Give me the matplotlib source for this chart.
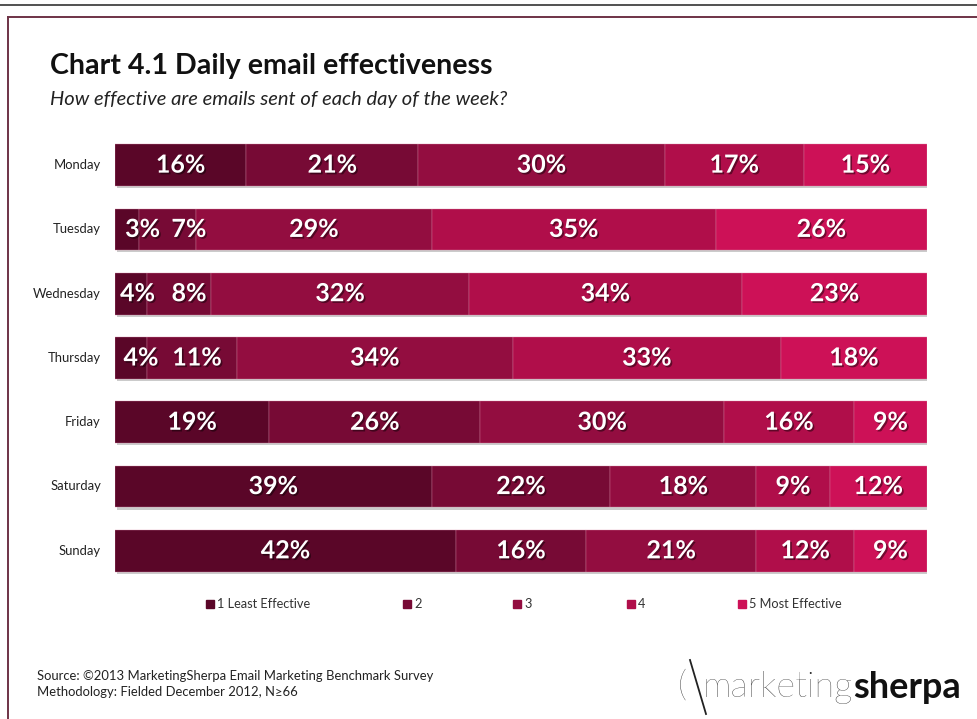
import matplotlib.pyplot as plt
import matplotlib.patheffects as pe
from matplotlib.patches import Rectangle
from matplotlib.lines import Line2D
import numpy as np

plt.rcParams['font.family'] = ['Lato', 'DejaVu Sans']

# Data
days = ["Monday", "Tuesday", "Wednesday", "Thursday", "Friday", "Saturday", "Sunday"]
levels = ["1 Least Effective", "2", "3", "4", "5 Most Effective"]
least_1 = [16, 3, 4, 4, 19, 39, 42]
level_2 = [21, 7, 8, 11, 26, 22, 16]
level_3 = [30, 29, 32, 34, 30, 18, 21]
level_4 = [17, 35, 34, 33, 16, 9, 12]
most_5 = [15, 26, 23, 18, 9, 12, 9]

colors = ["#5a0628", "#770a35", "#930d40", "#b00e4a", "#cd1157"]

# labels of narrow segments are nudged right (in % of bar), like the original
nudge = {(1, 0): 1.9, (1, 1): 2.6, (2, 0): 0.8, (2, 1): 1.2, (3, 0): 1.2, (3, 1): 0.6}

W, H = 977, 719
fig = plt.figure(figsize=(W / 100, H / 100), dpi=100)

def fx(px):
    return px / W

def fy(py):
    return 1 - py / H

# page line and frame
fig.add_artist(Line2D([0, 1], [fy(5), fy(5)], color="#333333", lw=1.2))
fig.add_artist(Line2D([fx(8), 1], [fy(17), fy(17)], color="#6e3346", lw=1.4))
fig.add_artist(Line2D([fx(8), fx(8)], [0, fy(17)], color="#6e3346", lw=1.4))

fig.text(fx(50), fy(66), "Chart 4.1 Daily email effectiveness", fontsize=20.6,
         fontweight="bold", color="#111111", va="center")
fig.text(fx(50), fy(100), "How effective are emails sent of each day of the week?",
         fontsize=14.5, fontstyle="italic", color="#222222", va="center")

# bars
ax = fig.add_axes([fx(115), fy(583), fx(927) - fx(115), (583 - 133) / H])
series = np.array([least_1, level_2, level_3, level_4, most_5], dtype=float)
totals = series.sum(axis=0)
shares = series / totals * 100
y = np.arange(len(days))
left = np.zeros(len(days))
shadow = [pe.SimplePatchShadow(offset=(1.5, -1.5), shadow_rgbFace="#999999", alpha=0.5), pe.Normal()]
txt_fx = [pe.withSimplePatchShadow(offset=(1.2, -1.2), shadow_rgbFace="#000000", alpha=0.45)]
for k in range(len(levels)):
    bars = ax.barh(y, shares[k], left=left, height=0.65, color=colors[k],
                   edgecolor="#d98aa8", linewidth=0.25, label=levels[k])
    for b in bars:
        b.set_path_effects(shadow)
    for i in range(len(days)):
        cx = left[i] + shares[k][i] / 2 + nudge.get((i, k), 0)
        ax.text(cx, y[i], f"{int(series[k][i])}%", ha="center", va="center",
                color="white", fontsize=18, fontweight="bold", path_effects=txt_fx)
    left += shares[k]

ax.set_xlim(0, 100)
ax.set_ylim(len(days) - 0.5, -0.5)
ax.axis("off")

for i, d in enumerate(days):
    fig.text(fx(101), fy(165 + 64.3 * i), d, ha="right", va="center",
             fontsize=9.4, color="#222222")

# legend
leg_x = [206, 403, 513, 627, 738]
for k, lab in enumerate(levels):
    fig.add_artist(Rectangle((fx(leg_x[k]), fy(608)), fx(8), 8 / H, color=colors[k]))
    fig.text(fx(leg_x[k] + 11), fy(604), lab, fontsize=9.2, color="#333333", va="center")

# source
fig.text(fx(37), fy(676), "Source: \u00a92013 MarketingSherpa Email Marketing Benchmark Survey",
         fontsize=9.4, color="#222222", va="center")
fig.text(fx(37), fy(692), "Methodology: Fielded December 2012, N\u226566",
         fontsize=9.4, color="#222222", va="center")

# logo
fig.text(fx(678), fy(686), "(", fontsize=26, color="#222222", va="center", fontweight="light")
fig.add_artist(Line2D([fx(690), fx(706)], [fy(660), fy(714)], color="#222222", lw=1.3))
t1 = fig.text(fx(703), fy(688), "marketing", fontsize=26, color="#222222",
              va="center", fontweight="light")
fig.canvas.draw()
bb = t1.get_window_extent()
fig.text(bb.x1 / W, fy(688), "sherpa", fontsize=26, color="#111111",
         va="center", fontweight="bold")

fig.savefig("out.png", dpi=100)
